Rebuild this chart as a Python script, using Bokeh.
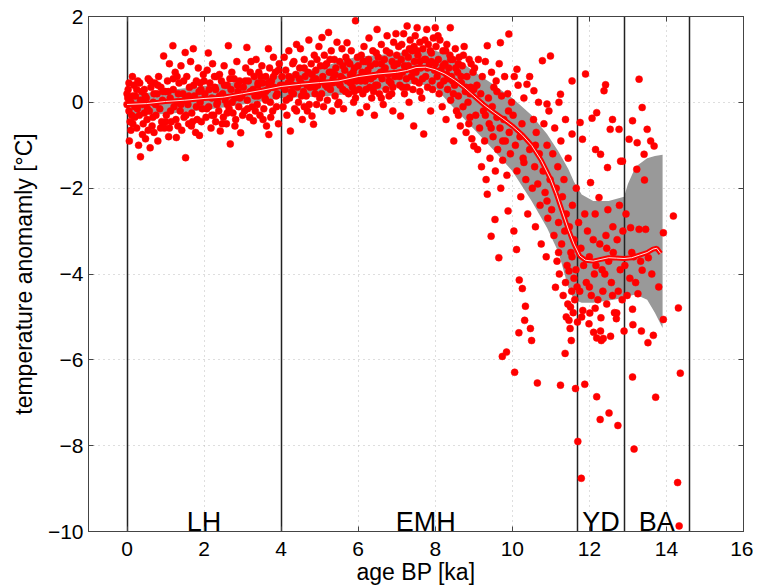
from bokeh.plotting import figure
from bokeh.models import LinearAxis, Range1d, FixedTicker
from bokeh.core.properties import value
from bokeh.embed import file_html
from bokeh.resources import INLINE

# ---------------- data ----------------
x_ticks = [0, 2, 4, 6, 8, 10, 12, 14, 16]
y_ticks = [-10, -8, -6, -4, -2, 0, 2]

boundaries = [0, 4, 11.7, 12.9, 14.6]
period_names = ["LH", "EMH", "YD", "BA"]
period_x = [2.0, 7.75, 12.3, 13.75]
period_y = [-9.77, -9.77, -9.77, -9.77]

# smoothed reconstruction (centre line)
fit_age = [0, 0.5, 1, 1.5, 2, 2.5, 3, 3.5, 4, 4.5, 5, 5.5, 6, 6.5, 7, 7.25, 7.5, 7.75, 8, 8.25,
           8.5, 8.75, 9, 9.25, 9.5, 9.75, 10, 10.25, 10.5, 10.75, 11, 11.15, 11.3, 11.45, 11.6,
           11.75, 11.9, 12.1, 12.3, 12.5, 12.7, 12.9, 13.1, 13.3, 13.5, 13.65, 13.75, 13.85]
fit_temp = [-0.05, -0.03, 0.02, 0.05, 0.09, 0.12, 0.2, 0.28, 0.37, 0.42, 0.46, 0.5, 0.6, 0.66, 0.7,
            0.74, 0.81, 0.82, 0.76, 0.66, 0.52, 0.35, 0.15, -0.05, -0.22, -0.38, -0.55, -0.75,
            -1.0, -1.35, -1.8, -2.15, -2.55, -2.95, -3.3, -3.58, -3.68, -3.7, -3.66, -3.62,
            -3.63, -3.64, -3.62, -3.56, -3.5, -3.42, -3.4, -3.52]

# uncertainty band
band_age = [0, 0.5, 1, 1.5, 2, 2.5, 3, 3.5, 4, 4.5, 5, 5.5, 6, 6.5, 7, 7.5, 8, 8.5, 9, 9.5, 10,
            10.5, 10.9, 11.2, 11.45, 11.6, 11.8, 12.1, 12.5, 12.9, 13.0, 13.2, 13.5, 13.7, 13.9]
band_upper = [0.15, 0.22, 0.28, 0.33, 0.38, 0.44, 0.5, 0.57, 0.63, 0.72, 0.8, 0.95, 1.07, 1.1,
              1.15, 1.18, 1.2, 1.06, 0.72, 0.42, 0.1, -0.3, -0.74, -1.15, -1.55, -1.85, -2.15,
              -2.3, -2.3, -2.2, -1.9, -1.5, -1.3, -1.25, -1.22]
band_lower = [-0.32, -0.29, -0.27, -0.23, -0.18, -0.12, -0.05, 0.02, 0.1, 0.12, 0.13, 0.17, 0.22,
              0.28, 0.35, 0.45, 0.34, -0.15, -0.62, -1.1, -1.6, -2.3, -2.92, -3.5, -4.3, -4.6,
              -4.67, -4.67, -4.62, -4.56, -4.52, -4.48, -4.6, -4.9, -5.26]

# proxy samples (age, temperature anomaly)
pts_0_2 = [(0.0,-0.05),(0.02,0.1),(0.05,-0.2),(0.0,0.2),(0.08,-0.45),(0.03,0.3),(0.1,0.0),(0.12,-0.3),
 (0.06,-0.9),(0.15,-0.5),(0.18,0.4),(0.2,-0.1),(0.22,0.15),(0.25,-0.6),(0.28,0.5),(0.3,-1.0),
 (0.32,-0.3),(0.35,-1.27),(0.38,0.25),(0.4,-0.05),(0.42,-0.5),(0.45,0.3),(0.48,-0.85),(0.5,0.1),
 (0.52,-0.4),(0.55,0.55),(0.58,-0.2),(0.6,-1.06),(0.62,0.35),(0.65,-0.55),(0.68,0.0),(0.7,-0.7),
 (0.72,0.45),(0.75,-0.3),(0.78,0.2),(0.8,-0.9),(0.82,0.6),(0.85,-0.15),(0.88,0.35),(0.9,-0.45),
 (0.92,0.05),(0.95,1.08),(0.97,-0.6),(1.0,0.25),(0.15,0.15),(0.25,0.3),(0.45,-0.25),(0.55,-0.65),
 (0.35,0.05),(0.7,0.2),
 (1.02,-0.3),(1.05,0.5),(1.08,-0.8),(1.1,0.9),(1.12,0.1),(1.15,-0.45),(1.19,1.32),(1.2,0.3),
 (1.22,-0.1),(1.25,0.7),(1.28,-0.82),(1.3,0.0),(1.32,-0.55),(1.35,0.45),(1.38,-0.2),(1.4,0.85),
 (1.42,-0.65),(1.45,0.2),(1.48,-0.35),(1.51,1.16),(1.52,-1.29),(1.55,0.6),(1.58,-0.05),(1.6,-0.5),
 (1.62,0.35),(1.65,0.95),(1.68,-0.25),(1.72,1.25),(1.75,0.15),(1.78,-0.7),(1.8,0.5),(1.82,-0.4),
 (1.85,0.8),(1.88,-0.77),(1.9,0.0),(1.92,0.3),(1.95,-0.15),(1.98,0.65),(1.1,-0.6),(1.3,0.6),
 (1.5,0.05),(1.7,-0.45),(1.9,0.45)]
pts_2_4 = [(2.02,0.2),(2.05,-0.35),(2.08,0.75),(2.11,1.15),(2.12,-0.1),(2.15,0.45),(2.18,-0.6),
 (2.2,0.1),(2.22,0.9),(2.25,-0.3),(2.28,0.35),(2.3,-0.45),(2.32,0.6),(2.35,0.0),(2.38,-0.2),
 (2.42,-0.67),(2.45,0.5),(2.48,0.2),(2.5,-0.35),(2.52,0.85),(2.55,0.05),(2.58,-0.5),(2.6,0.4),
 (2.63,1.32),(2.65,-0.15),(2.68,-0.97),(2.7,0.3),(2.72,0.7),(2.75,-0.25),(2.78,0.55),(2.8,0.1),
 (2.82,-0.4),(2.85,0.95),(2.88,0.25),(2.9,-0.1),(2.92,0.5),(2.95,-0.71),(2.98,0.15),(2.3,0.3),
 (2.6,-0.05),(2.4,0.65),
 (3.02,0.35),(3.05,-0.2),(3.08,0.8),(3.11,1.28),(3.12,0.05),(3.15,0.5),(3.18,-0.35),(3.2,0.25),
 (3.22,0.95),(3.25,-0.1),(3.28,-0.43),(3.3,0.6),(3.32,0.15),(3.35,1.0),(3.38,-0.05),(3.4,0.4),
 (3.42,0.7),(3.45,-0.3),(3.48,0.2),(3.5,0.85),(3.52,0.45),(3.55,-0.15),(3.58,0.1),(3.6,0.6),
 (3.62,-0.55),(3.65,0.3),(3.67,1.25),(3.68,-0.75),(3.7,0.8),(3.72,0.0),(3.75,0.5),(3.78,-0.2),
 (3.8,1.05),(3.82,0.35),(3.85,0.7),(3.88,-0.1),(3.9,0.2),(3.93,-0.5),(3.95,0.9),(3.98,0.4),
 (3.4,0.45),(3.6,0.25)]
pts_4_6 = [(4.02,0.6),(4.05,-0.1),(4.08,1.05),(4.1,0.3),(4.12,0.75),(4.15,-0.3),(4.18,0.45),
 (4.2,1.2),(4.22,0.1),(4.24,-0.67),(4.26,0.55),(4.3,0.9),(4.32,0.2),(4.35,-0.15),(4.38,0.65),
 (4.4,1.35),(4.42,0.35),(4.45,0.0),(4.48,0.8),(4.5,1.25),(4.52,0.45),(4.55,-0.4),(4.58,0.25),
 (4.6,1.0),(4.62,0.6),(4.65,0.15),(4.68,-0.2),(4.7,0.7),(4.72,1.45),(4.75,0.35),(4.78,0.9),
 (4.8,-0.32),(4.82,0.5),(4.84,-0.51),(4.86,1.1),(4.88,0.2),(4.9,0.75),(4.92,-0.05),(4.95,0.4),
 (4.98,1.3),(4.3,0.4),(4.6,-0.1),(4.9,0.55),
 (5.02,0.85),(5.05,0.2),(5.06,1.51),(5.08,0.6),(5.1,-0.1),(5.12,1.1),(5.15,0.4),(5.18,0.9),
 (5.2,0.05),(5.23,1.63),(5.25,0.7),(5.28,0.3),(5.3,1.2),(5.32,-0.2),(5.35,0.55),(5.38,1.0),
 (5.4,0.15),(5.42,0.8),(5.45,1.4),(5.48,0.45),(5.5,0.0),(5.52,0.95),(5.55,0.6),(5.58,1.25),
 (5.6,0.3),(5.62,-0.15),(5.65,0.75),(5.68,1.05),(5.71,1.39),(5.72,0.5),(5.75,0.2),(5.78,0.9),
 (5.8,0.65),(5.82,1.2),(5.85,0.35),(5.88,0.0),(5.9,0.8),(5.93,1.9),(5.95,0.5),(5.98,1.05),
 (5.3,0.7),(5.6,0.55),(5.9,0.25)]
pts_6_8 = [(6.02,0.3),(6.05,-0.24),(6.08,1.1),(6.1,0.7),(6.12,0.2),(6.15,1.3),(6.18,0.5),(6.2,0.95),
 (6.22,-0.1),(6.25,0.75),(6.28,1.5),(6.3,0.35),(6.32,0.85),(6.35,0.1),(6.38,1.2),(6.4,0.6),
 (6.42,-0.3),(6.45,0.9),(6.49,1.7),(6.5,0.4),(6.52,1.05),(6.55,0.2),(6.58,0.7),(6.6,1.35),
 (6.62,0.55),(6.65,-0.05),(6.68,1.0),(6.7,0.8),(6.72,0.3),(6.75,1.55),(6.78,0.65),(6.8,0.15),
 (6.82,1.15),(6.85,0.45),(6.88,0.95),(6.9,-0.2),(6.92,1.4),(6.95,0.6),(6.98,1.6),(6.3,0.6),
 (6.6,0.9),(6.9,0.35),(6.45,0.4),
 (7.02,0.9),(7.05,1.3),(7.08,0.4),(7.1,-0.32),(7.12,1.0),(7.15,0.7),(7.18,1.6),(7.2,0.2),
 (7.22,1.15),(7.25,0.55),(7.27,1.78),(7.3,0.85),(7.32,0.0),(7.35,1.45),(7.38,0.6),(7.4,1.2),
 (7.42,0.3),(7.44,-0.55),(7.46,0.95),(7.48,1.55),(7.5,0.7),(7.53,1.74),(7.55,1.1),(7.58,0.45),
 (7.6,1.4),(7.62,0.8),(7.65,0.1),(7.68,1.25),(7.7,-0.74),(7.72,1.0),(7.75,0.6),(7.78,1.7),
 (7.8,0.35),(7.82,1.35),(7.85,0.9),(7.88,-0.2),(7.9,1.15),(7.92,0.5),(7.95,1.5),(7.98,0.75),
 (8.0,1.74),(7.3,1.05),(7.6,0.25),(7.9,0.95),(7.15,0.35),(7.45,1.3),(7.75,1.0)]
pts_8_10 = [(8.02,1.3),(8.05,0.6),(8.08,1.0),(8.1,0.2),(8.12,1.45),(8.15,0.75),(8.18,-0.1),
 (8.2,1.2),(8.22,0.5),(8.25,0.9),(8.28,-0.4),(8.3,1.35),(8.32,0.3),(8.35,0.8),(8.38,1.1),
 (8.39,1.74),(8.4,0.05),(8.42,0.6),(8.45,1.0),(8.48,-0.9),(8.5,0.4),(8.52,1.25),(8.55,-0.2),
 (8.58,0.7),(8.6,0.15),(8.62,1.05),(8.65,-0.55),(8.68,0.45),(8.7,0.85),(8.72,-0.1),(8.75,1.3),
 (8.78,0.25),(8.8,-0.7),(8.82,0.6),(8.85,0.0),(8.88,1.0),(8.9,-0.35),(8.92,0.35),(8.95,-0.85),
 (8.98,0.7),(9.0,-1.02),(8.3,0.65),(8.6,0.9),(8.9,0.2),(8.45,0.5),
 (9.02,0.8),(9.05,-0.3),(9.08,0.4),(9.1,-1.1),(9.12,1.0),(9.15,-0.6),(9.18,0.2),(9.2,-1.5),
 (9.22,0.6),(9.25,-0.2),(9.28,-0.9),(9.3,0.95),(9.32,-1.8),(9.35,1.32),(9.35,-2.14),(9.38,0.1),
 (9.4,-0.5),(9.42,-1.3),(9.45,-3.12),(9.46,0.7),(9.48,-0.1),(9.5,-0.8),(9.52,0.35),(9.55,-2.73),
 (9.56,-1.6),(9.58,0.5),(9.6,-0.35),(9.62,-1.1),(9.65,-3.62),(9.66,0.9),(9.68,-0.6),(9.69,1.39),
 (9.7,-2.0),(9.72,0.15),(9.74,-5.92),(9.75,-1.35),(9.78,-0.4),(9.8,0.6),(9.82,-0.9),
 (9.85,-5.82),(9.86,-1.7),(9.88,0.2),(9.89,-2.53),(9.91,1.59),(9.92,-0.7),(9.95,-1.2),
 (9.98,0.0),(9.3,-0.3),(9.6,0.25),(9.9,-0.2),(9.45,-0.6),(9.75,-0.9)]
pts_10_11 = [(10.02,-0.3),(10.04,-3.0),(10.05,0.6),(10.06,-6.29),(10.08,-1.0),(10.12,0.77),
 (10.11,-3.43),(10.12,-1.6),(10.15,0.4),(10.17,-5.37),(10.18,-4.14),(10.2,-0.8),(10.22,-2.2),
 (10.25,-0.5),(10.26,-4.34),(10.28,-1.3),(10.3,0.1),(10.32,-5.08),(10.34,-4.75),(10.35,-1.8),
 (10.38,0.42),(10.4,-2.6),(10.45,0.6),(10.45,-1.1),(10.47,-5.27),(10.5,-5.55),(10.52,-2.0),
 (10.55,-0.4),(10.56,0.27),(10.58,-1.5),(10.6,-2.9),(10.62,-0.7),(10.65,-6.54),(10.66,-1.9),
 (10.68,0.0),(10.7,-1.2),(10.72,-2.4),(10.75,-3.3),(10.78,0.97),(10.8,-1.6),(10.82,-0.5),
 (10.85,-2.1),(10.88,-3.6),(10.9,-0.04),(10.9,-1.0),(10.92,-2.7),(10.95,-0.2),(10.98,-1.8),
 (10.99,1.08),(10.3,-1.4),(10.6,-1.0),(10.9,-2.3)]
pts_11_12 = [(11.02,-2.5),(11.05,-1.2),(11.08,-3.1),(11.1,-0.6),(11.12,-4.31),(11.14,-2.0),
 (11.16,-3.7),(11.18,-1.5),(11.2,-2.8),(11.21,0.0),(11.22,-4.0),(11.25,-6.59),(11.25,0.19),
 (11.26,-0.9),(11.28,-3.3),(11.3,-2.2),(11.32,-4.5),(11.34,-1.8),(11.36,-3.0),(11.37,-5.85),
 (11.38,-0.4),(11.38,-4.2),(11.4,-2.6),(11.42,-3.8),(11.44,-4.7),(11.45,-1.3),(11.47,-3.93),
 (11.47,-5.08),(11.48,-2.9),(11.5,-5.27),(11.51,-4.77),(11.52,-3.5),(11.53,-5.55),(11.54,-4.4),
 (11.55,0.5),(11.55,-0.74),(11.56,-2.4),(11.58,-4.9),(11.6,-3.2),(11.62,-4.6),(11.64,-6.67),
 (11.65,-3.9),(11.66,-2.0),(11.68,-4.3),(11.69,-5.12),(11.2,-3.5),(11.4,-5.0),(11.6,-4.1),
 (11.55,-3.6)]
pts_yd = [(11.7,-7.9),(11.72,-2.8),(11.75,-4.4),(11.76,-0.47),(11.78,-3.4),(11.79,-8.76),
 (11.8,-5.0),(11.82,-0.86),(11.83,-4.85),(11.85,-3.8),(11.88,-6.57),(11.88,-2.6),(11.9,0.66),
 (11.92,-4.2),(11.95,-3.0),(11.99,-5.16),(12.0,-3.6),(12.01,-4.91),(12.03,-1.87),(12.05,-4.5),
 (12.07,-0.37),(12.1,-3.2),(12.11,-5.36),(12.13,-4.0),(12.15,-2.6),(12.16,-1.1),(12.17,-3.8),
 (12.19,-5.49),(12.19,-6.86),(12.19,-0.24),(12.22,-4.6),(12.25,-2.22),(12.27,-3.3),(12.28,-7.39),
 (12.29,-5.33),(12.3,-5.02),(12.29,-1.21),(12.31,-5.55),(12.33,-3.9),(12.35,-4.4),(12.36,-5.5),
 (12.38,0.27),(12.42,0.41),(12.43,-3.1),(12.45,-4.7),(12.47,-1.52),(12.48,-2.5),(12.5,-3.7),
 (12.51,-7.24),(12.54,-0.63),(12.55,-5.45),(12.57,-4.2),(12.6,-0.4),(12.61,-2.9),(12.62,-3.5),
 (12.65,-4.9),(12.7,-5.04),(12.71,-4.91),(12.72,-3.2),(12.74,-7.53),(12.75,-4.4),(12.77,-0.63),
 (12.78,-2.4),(12.8,-3.9),(12.81,-1.37),(12.85,-4.6),(12.87,-3.0),(12.0,-4.3),(12.4,-4.0),
 (12.6,-4.5),(12.15,-4.8),(12.45,-3.4)]
pts_ba = [(12.9,-5.33),(12.92,-3.8),(12.95,-2.6),(12.98,-4.5),(13.03,-0.86),(13.05,-4.1),
 (13.07,-2.92),(13.1,-3.5),(13.12,-6.4),(13.12,-4.82),(13.12,-0.43),(13.13,-5.18),(13.15,-3.6),
 (13.16,-8.08),(13.2,-4.2),(13.23,-1.56),(13.24,-0.94),(13.26,-4.46),(13.29,0.54),(13.29,-2.96),
 (13.33,-3.7),(13.35,-5.33),(13.37,-0.12),(13.37,-3.91),(13.42,-1.21),(13.43,-1.81),
 (13.46,-2.96),(13.5,-0.63),(13.52,-5.6),(13.53,-3.62),(13.59,-0.9),(13.62,-4.0),(13.66,-5.43),
 (13.68,-1.02),(13.72,-6.87),(13.8,-4.3),(13.92,-3.04),(13.92,-5.06),(14.18,-2.65),(14.29,-8.86),
 (14.31,-4.79),(14.33,-9.87),(14.36,-6.31),(12.86,-1.37)]
pts_dense_lh = [(0.05,0.45),(0.1,-0.65),(0.14,0.6),(0.2,-0.35),(0.27,-0.15),(0.33,0.45),(0.4,-0.75),
 (0.47,0.15),(0.53,-0.15),(0.6,0.5),(0.67,-0.35),(0.74,-0.05),(0.8,0.4),(0.87,-0.6),(0.93,0.25),
 (1.0,-0.45),(1.07,0.25),(1.13,-0.2),(1.2,0.55),(1.27,-0.4),(1.33,0.2),(1.4,-0.05),(1.47,0.5),
 (1.53,-0.3),(1.6,0.15),(1.67,-0.55),(1.73,0.4),(1.8,-0.1),(1.87,0.25),(1.93,-0.45),(2.0,0.5),
 (2.07,-0.15),(2.13,0.3),(2.2,-0.3),(2.27,0.6),(2.33,-0.05),(2.4,0.15),(2.47,-0.5),(2.53,0.4),
 (2.6,-0.25),(2.67,0.55),(2.73,0.0),(2.8,-0.55),(2.87,0.4),(2.93,0.1),(3.0,-0.3),(3.07,0.5),
 (3.13,-0.15),(3.2,0.7),(3.27,0.3),(3.33,-0.2),(3.4,0.15),(3.47,0.6),(3.53,-0.4),(3.6,0.05),
 (3.67,0.45),(3.73,-0.35),(3.8,0.6),(3.87,0.15),(3.93,0.75)]
pts_dense_emh = [(4.05,0.4),(4.13,0.05),(4.2,0.6),(4.27,0.25),(4.33,0.95),(4.4,-0.2),(4.47,0.55),
 (4.53,0.15),(4.6,0.8),(4.67,0.4),(4.73,-0.05),(4.8,0.65),(4.87,0.35),(4.93,1.0),(5.0,0.1),
 (5.07,0.5),(5.13,0.85),(5.2,0.35),(5.27,1.0),(5.33,0.45),(5.4,0.65),(5.47,-0.05),(5.53,0.4),
 (5.6,0.85),(5.67,0.25),(5.73,0.95),(5.8,0.45),(5.87,0.7),(5.93,0.1),(6.0,0.85),(6.07,0.5),
 (6.13,0.95),(6.2,0.3),(6.27,1.0),(6.33,0.55),(6.4,0.25),(6.47,1.15),(6.53,0.65),(6.6,0.1),
 (6.67,0.75),(6.73,1.2),(6.8,0.5),(6.87,0.2),(6.93,0.85),(7.0,1.1),(7.07,0.6),(7.13,1.35),
 (7.2,0.85),(7.27,0.35),(7.33,1.25),(7.4,0.75),(7.47,0.5),(7.53,1.2),(7.6,0.95),(7.67,0.55),
 (7.73,1.45),(7.8,0.8),(7.87,1.2),(7.93,0.3),(8.0,0.9),(8.07,1.55),(8.13,0.4),(8.2,0.85),
 (8.27,1.2),(8.33,0.55),(8.4,1.0),(8.47,0.2),(8.53,0.8),(8.6,-0.3),(8.67,0.6),(8.73,1.1),
 (8.8,0.35),(8.87,-0.5),(8.93,0.9),(9.0,0.3)]

all_pts = (pts_0_2 + pts_2_4 + pts_4_6 + pts_6_8 + pts_8_10 + pts_10_11 + pts_11_12 + pts_yd
           + pts_ba + pts_dense_lh + pts_dense_emh)
sample_age = [a for a, t in all_pts]
sample_temp = [t for a, t in all_pts]

# ---------------- figure ----------------
FONT = "Liberation Sans"
p = figure(width=753, height=587, x_range=Range1d(-1, 16), y_range=Range1d(-10, 2),
           output_backend="svg", toolbar_location=None,
           min_border_left=88, min_border_right=10, min_border_top=16, min_border_bottom=56)
p.background_fill_color = "white"
p.border_fill_color = "white"
p.outline_line_color = "#444444"
p.outline_line_width = 1

for ax in (p.xaxis[0], p.yaxis[0]):
    ax.major_label_text_font = FONT
    ax.major_label_text_font_size = "21px"
    ax.major_label_text_color = "black"
    ax.axis_label_text_font = FONT
    ax.axis_label_text_font_size = "23px"
    ax.axis_label_text_font_style = "normal"
    ax.axis_label_text_color = "black"
    ax.major_tick_in = 5
    ax.major_tick_out = 0
    ax.minor_tick_in = 0
    ax.minor_tick_out = 0
    ax.axis_line_color = "#444444"
    ax.major_tick_line_color = "#444444"

p.xaxis[0].ticker = FixedTicker(ticks=x_ticks)
p.yaxis[0].ticker = FixedTicker(ticks=y_ticks)
p.xaxis[0].axis_label = "age BP [ka]"
p.yaxis[0].axis_label = "temperature anomamly [°C]"
p.xaxis[0].major_label_standoff = 10
p.xaxis[0].axis_label_standoff = 0
p.yaxis[0].major_label_standoff = 5
p.yaxis[0].axis_label_standoff = 8

for loc, tks in (("above", x_ticks), ("right", y_ticks)):
    ax = LinearAxis(ticker=FixedTicker(ticks=tks),
                    major_label_overrides={t: "" for t in tks},
                    major_tick_in=5, major_tick_out=0, minor_tick_in=0, minor_tick_out=0,
                    major_label_standoff=0, axis_line_color="#444444",
                    major_tick_line_color="#444444")
    p.add_layout(ax, loc)

p.xgrid.ticker = FixedTicker(ticks=x_ticks)
p.ygrid.ticker = FixedTicker(ticks=y_ticks)
p.grid.grid_line_color = "#bdbdbd"
p.grid.grid_line_dash = "1 4"
p.grid.grid_line_width = 1

# band
p.varea(x=band_age, y1=band_lower, y2=band_upper, fill_color="#999999", fill_alpha=1.0)

# period boundaries
p.vspan(x=boundaries, line_color="#222222", line_width=1.5)

# samples
p.scatter(sample_age, sample_temp, size=7, fill_color="#ff0000", line_color="#ff0000",
          line_width=0.5)

# smooth fit
p.line(fit_age, fit_temp, line_color="#ff0000", line_width=5)
p.line(fit_age, fit_temp, line_color="#ffe0e0", line_width=1)

# period labels
p.text(x=period_x, y=period_y, text=period_names, text_font=value(FONT),
       text_font_size="27px", text_align="center", text_baseline="alphabetic",
       text_color="black")

open("out.html", "w").write(file_html(p, INLINE))
